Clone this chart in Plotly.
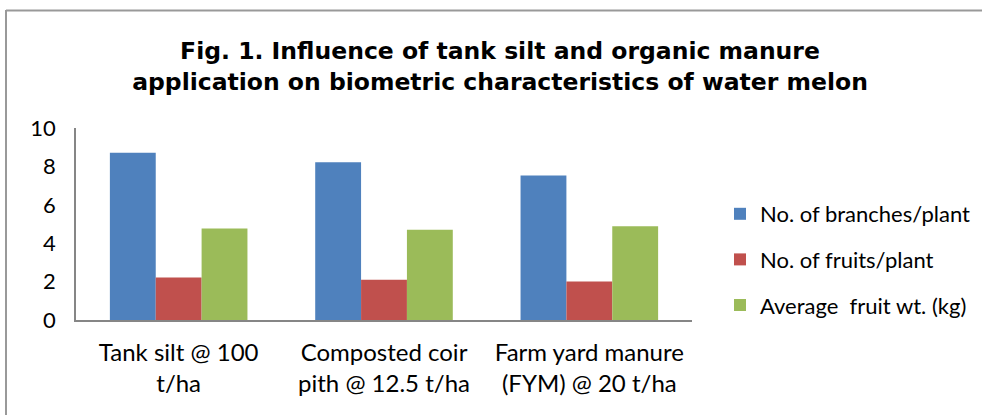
import plotly.graph_objects as go

categories = ["Tank silt @ 100<br>t/ha", "Composted coir<br>pith @ 12.5 t/ha", "Farm yard manure<br>(FYM) @ 20 t/ha"]
series_names = ["No. of branches/plant", "No. of fruits/plant", "Average  fruit wt. (kg)"]
branches = [8.71, 8.21, 7.53]
fruits = [2.22, 2.10, 2.01]
fruit_wt = [4.76, 4.70, 4.88]
colors = ["#4F81BD", "#C0504D", "#9BBB59"]
y_ticks = [0, 2, 4, 6, 8, 10]

W, H = 982, 415
L, R, T, B = 76, 290, 128, 95
pw, ph = W - L - R, H - T - B

def px(x):
    return (x - L) / pw

def py(y):
    return (H - B - y) / ph

fig = go.Figure()
for i, (name, vals) in enumerate(zip(series_names, [branches, fruits, fruit_wt])):
    fig.add_trace(go.Bar(
        x=categories, y=vals, name=name,
        marker=dict(color=colors[i], line=dict(width=0)),
        legendgroup=f"g{i}",
    ))

fig.update_layout(
    width=W, height=H,
    margin=dict(l=L, r=R, t=T, b=B, autoexpand=False),
    paper_bgcolor="white", plot_bgcolor="white",
    barmode="group", bargap=0.33, bargroupgap=0,
    font=dict(family="Lato, sans-serif", color="black"),
    title=dict(
        text="Fig. 1. Influence of tank silt and organic manure<br>application on biometric characteristics of water melon",
        x=500 / W, xanchor="center", xref="container",
        y=1 - 59 / H, yanchor="top", yref="container",
        font=dict(family="DejaVu Sans, sans-serif", size=23.5, color="black", weight="bold"),
    ),
    xaxis=dict(
        showline=True, linecolor="#868686", linewidth=2,
        ticks="", showgrid=False, tickfont=dict(size=24),
        ticklabelstandoff=10,
    ),
    yaxis=dict(
        range=[0, 10], tickvals=y_ticks, showline=True, linecolor="#868686", linewidth=1.5,
        ticks="", showgrid=False, zeroline=False, tickfont=dict(size=22),
        ticklabelstandoff=14,
    ),
    legend=dict(
        x=px(720), y=py(193), xanchor="left", yanchor="top",
        font=dict(size=22), tracegroupgap=14, bgcolor="rgba(0,0,0,0)",
    ),
    showlegend=True,
)

# outer chart border (top and left edges visible)
fig.add_shape(type="line", xref="paper", yref="paper",
              x0=px(6), x1=px(990), y0=py(10.5), y1=py(10.5),
              line=dict(color="#999999", width=2))
fig.add_shape(type="line", xref="paper", yref="paper",
              x0=px(6), x1=px(6), y0=py(10), y1=py(420),
              line=dict(color="#999999", width=2))

fig.write_html("out.html", config={"displayModeBar": False},
               post_script="document.body.style.margin='0';")
